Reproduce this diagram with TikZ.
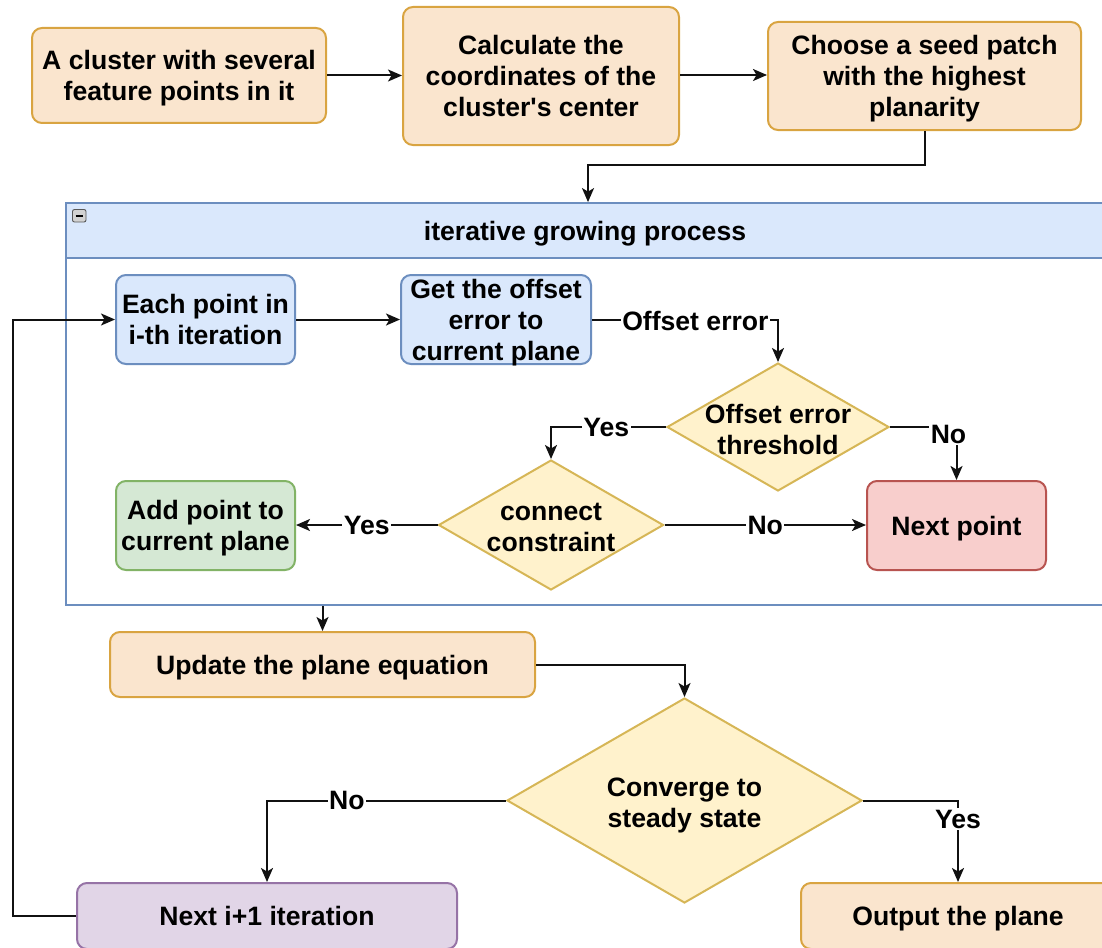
\documentclass[tikz,border=0pt]{standalone}
\usepackage{fontspec}
\setmainfont{Liberation Sans}[Ligatures=TeXOff]
\usetikzlibrary{shapes.geometric,arrows.meta}

\definecolor{orFill}{HTML}{FAE5CE}
\definecolor{orLine}{HTML}{D9A441}
\definecolor{blFill}{HTML}{DAE8FC}
\definecolor{blLine}{HTML}{6C8EBF}
\definecolor{yeFill}{HTML}{FFF2CC}
\definecolor{yeLine}{HTML}{D6B656}
\definecolor{grFill}{HTML}{D5E8D4}
\definecolor{grLine}{HTML}{82B366}
\definecolor{rdFill}{HTML}{F8CECC}
\definecolor{rdLine}{HTML}{B85450}
\definecolor{puFill}{HTML}{E1D5E7}
\definecolor{puLine}{HTML}{9673A6}
\definecolor{wire}{HTML}{111111}

\begin{document}
\begin{tikzpicture}[x=1pt,y=-1pt,
  font=\fontsize{26.6}{31}\selectfont\bfseries,
  box/.style={draw, rounded corners=10pt, line width=2pt, align=center, inner sep=0pt, text depth=0pt},
  oneline/.style={text height=19.5pt, text depth=0.5pt},
  orangebox/.style={box, fill=orFill, draw=orLine},
  bluebox/.style={box, fill=blFill, draw=blLine},
  greenbox/.style={box, fill=grFill, draw=grLine},
  redbox/.style={box, fill=rdFill, draw=rdLine},
  purplebox/.style={box, fill=puFill, draw=puLine},
  decision/.style={diamond, draw=yeLine, fill=yeFill, line width=2pt, inner sep=0pt},
  dtext/.style={align=center, text depth=0pt, yshift=-2pt},
  arr/.style={draw=wire, line width=2pt, -{Stealth[length=14pt,width=12pt,inset=3.5pt]}},
  lbl/.style={fill=white, inner sep=1.5pt, text=black}
]
\useasboundingbox (0,0) rectangle (1102,947);

% ---- top row ----
\node[orangebox, minimum width=294pt, minimum height=95pt] (A) at (179,75.5)
  {A cluster with several\\feature points in it};
\node[orangebox, minimum width=276pt, minimum height=138pt] (B) at (541,76)
  {Calculate the\\coordinates of the\\cluster's center};
\node[orangebox, minimum width=313pt, minimum height=108pt] (C) at (924.5,76)
  {Choose a seed patch\\with the highest\\planarity};

% ---- container for the growing loop ----
\node[draw=blLine, fill=white, line width=1.8pt, minimum width=1038pt, minimum height=402pt, inner sep=0pt] (grp) at (585,404) {};
\node[draw=blLine, fill=blFill, line width=1.8pt, minimum width=1038pt, minimum height=55pt, inner sep=0pt, oneline] (hdr) at (585,230.5)
  {iterative growing process};
% collapse toggle in the header corner
\draw[gray!70!black, fill=gray!35, line width=0.9pt, rounded corners=2pt] (72.5,209.5) rectangle (86,222);
\draw[black, line width=2pt] (75.5,215.8) -- (83,215.8);

\node[bluebox, minimum width=179pt, minimum height=89pt] (each) at (205.5,319.5)
  {Each point in\\i-th iteration};
\node[bluebox, minimum width=190pt, minimum height=89pt] (get) at (496,319.5)
  {Get the offset\\error to\\current plane};
\node[decision, minimum width=222pt, minimum height=128pt,
  label={[dtext]center:Offset error\\threshold}] (d1) at (778,427) {};
\node[decision, minimum width=225pt, minimum height=130pt,
  label={[dtext]center:connect\\constraint}] (d2) at (551,525) {};
\node[greenbox, minimum width=179pt, minimum height=89pt] (add) at (205.5,525.5)
  {Add point to\\current plane};
\node[redbox, oneline, minimum width=179pt, minimum height=89pt] (np) at (956.5,525.5)
  {Next point};

% ---- after the loop ----
\node[orangebox, oneline, minimum width=425pt, minimum height=65pt] (upd) at (322.5,664.5)
  {Update the plane equation};
\node[decision, minimum width=355pt, minimum height=205pt,
  label={[dtext]center:Converge to\\steady state}] (d3) at (684.5,800.5) {};
\node[purplebox, oneline, minimum width=380pt, minimum height=66pt] (n1) at (267,916)
  {Next i+1 iteration};
\node[orangebox, oneline, minimum width=314pt, minimum height=66pt] (out) at (958,916)
  {Output the plane};

% ---- connectors ----
\coordinate (k1) at (588,165);
\coordinate (lp) at (13,0);

\draw[arr] (A.east) -- (A.east -| B.west);
\draw[arr] (B.east |- 0,75) -- (C.west |- 0,75);
\draw[arr] (C.south) |- (k1) -- (k1 |- hdr.north);

\draw[arr] (each.east) -- (get.west);
\draw[arr] (get.east) -| node[lbl, pos=0.278, yshift=-1.5pt] {Offset error} (d1.north);
\draw[arr] (d1.west) -| node[lbl, pos=0.26] {Yes} (d2.north);
\draw[arr] (d1.east) -| node[lbl, pos=0.5, xshift=-8pt, yshift=-7pt] {No} (np.north);
\draw[arr] (d2.west |- 0,525) -- node[lbl] {Yes} (add.east |- 0,525);
\draw[arr] (d2.east |- 0,525) -- node[lbl] {No} (np.west |- 0,525);

\draw[arr] (upd.north |- grp.south) -- (upd.north);
\draw[arr] (upd.east) -| (d3.north);
\draw[arr] (d3.west) -| node[lbl, pos=0.333] {No} (n1.north);
\draw[arr] (d3.east) -| node[lbl, pos=0.614] {Yes} (out.north);
\draw[arr] (n1.west) -- (n1.west -| lp) |- (each.west);

\end{tikzpicture}
\end{document}
